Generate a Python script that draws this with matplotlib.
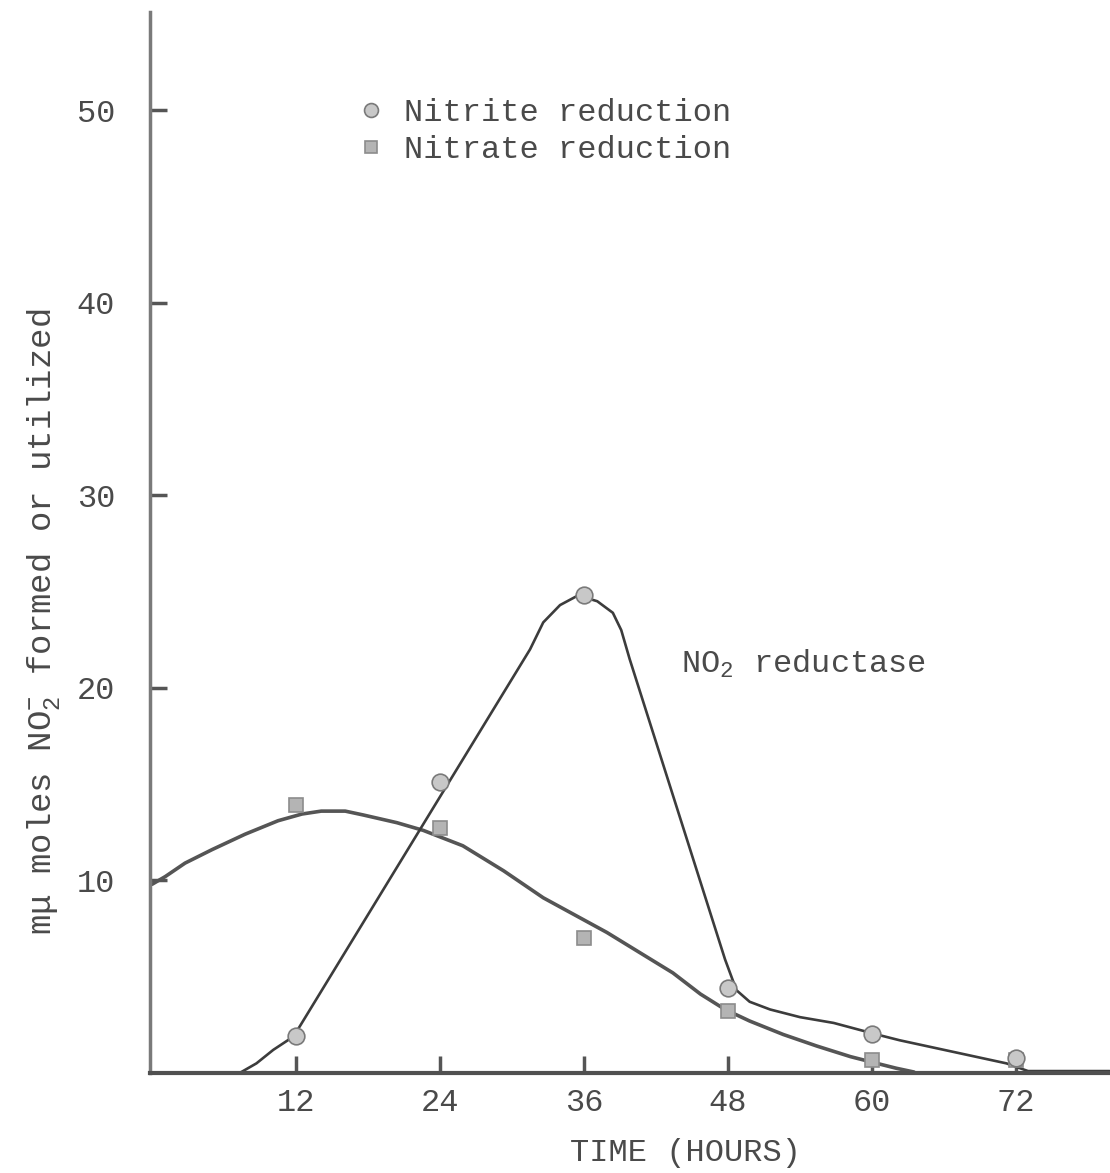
import matplotlib
matplotlib.use("Agg")
import matplotlib.pyplot as plt
from matplotlib.lines import Line2D

plt.rcParams["font.family"] = ["Liberation Mono", "DejaVu Sans Mono"]
plt.rcParams["mathtext.fontset"] = "custom"
plt.rcParams["mathtext.rm"] = "Liberation Mono"
plt.rcParams["mathtext.it"] = "Liberation Mono"
plt.rcParams["mathtext.default"] = "rm"

# measured points (hours, m-mu moles NO2-)
hours = [12, 24, 36, 48, 60, 72]
nitrite = [1.9, 15.1, 24.8, 4.4, 2.0, 0.8]
nitrate = [13.9, 12.7, 7.0, 3.2, 0.7, 0.7]

# hand drawn curves
nitrite_curve_t = [7.3, 8.7, 10.1, 11.8, 31.5, 32.6, 34.0, 35.5, 37.1, 38.4, 39.1, 39.8,
                   47.75, 48.7, 49.8, 51.5, 54.0, 56.8, 60.4, 62.3, 71.2, 73.0, 79.8]
nitrite_curve_v = [0.0, 0.5, 1.2, 1.9, 22.0, 23.4, 24.3, 24.8, 24.5, 23.9, 23.0, 21.5,
                   5.9, 4.3, 3.7, 3.3, 2.9, 2.6, 2.0, 1.7, 0.5, 0.1, 0.1]

nitrate_curve_t = [0.0, 1.1, 2.75, 5.0, 7.75, 10.5, 12.5, 14.1, 16.1, 17.6, 20.4, 22.6,
                   25.9, 29.3, 32.6, 37.9, 43.4, 45.7, 47.75, 49.8, 52.6, 55.4, 58.2,
                   60.4, 62.0, 63.5]
nitrate_curve_v = [9.8, 10.2, 10.9, 11.6, 12.4, 13.1, 13.45, 13.6, 13.6, 13.4, 13.0, 12.6,
                   11.8, 10.5, 9.1, 7.3, 5.2, 4.1, 3.3, 2.7, 2.0, 1.4, 0.85,
                   0.5, 0.25, 0.05]

x_ticks = [12, 24, 36, 48, 60, 72]
y_ticks = [10, 20, 30, 40, 50]

ink = "#4a4a4a"
fs = 23

fig = plt.figure(figsize=(11.1, 11.73), dpi=100)
ax = fig.add_axes([150 / 1110, 100 / 1173, 960 / 1110, 1061 / 1173])

ax.plot(nitrate_curve_t, nitrate_curve_v, color="#555555", lw=2.6, solid_capstyle="round", zorder=2)
ax.plot(nitrite_curve_t, nitrite_curve_v, color="#3c3c3c", lw=1.9, solid_capstyle="round", zorder=2)

ax.plot(hours, nitrate, ls="none", marker="s", ms=10, mfc="#b4b4b4", mec="#8c8c8c", mew=1.2, zorder=3)
ax.plot(hours, nitrite, ls="none", marker="o", ms=12, mfc="#c8c8c8", mec="#7a7a7a", mew=1.2, zorder=4)

ax.set_xlim(-0.17, 79.83)
ax.set_ylim(0, 55.1)

for s in ["top", "right"]:
    ax.spines[s].set_visible(False)
ax.spines["left"].set_color("#7a7a7a")
ax.spines["left"].set_linewidth(2.5)
ax.spines["bottom"].set_color("#505050")
ax.spines["bottom"].set_linewidth(3)

ax.set_xticks(x_ticks)
ax.set_xticklabels([str(t) for t in x_ticks])
ax.set_yticks(y_ticks)
ax.set_yticklabels([str(t) for t in y_ticks])
ax.tick_params(axis="x", direction="in", length=12, width=2.5, color="#555555",
               pad=11, labelsize=fs, labelcolor=ink)
ax.tick_params(axis="y", direction="in", length=12, width=2.5, color="#555555",
               pad=25, labelsize=fs, labelcolor=ink)

ax.set_xlabel("TIME (HOURS)", fontsize=fs, color=ink)
ax.xaxis.set_label_coords((685 - 150) / 960, (1073 - 1153) / 1061)
ax.xaxis.label.set_va("center")

fig.text(44 / 1110, 1 - 622 / 1173, r"m$\mu$ moles NO$_2^{-}$ formed or utilized",
         rotation=90, ha="center", va="center", fontsize=24.5, color=ink)

ax.text(44.1, 20.8, r"NO$_2$ reductase", fontsize=fs, color=ink, va="baseline")

handles = [
    Line2D([], [], ls="none", marker="o", ms=10, mfc="#c8c8c8", mec="#7a7a7a", mew=1.2),
    Line2D([], [], ls="none", marker="s", ms=8.5, mfc="#b4b4b4", mec="#8c8c8c", mew=1.2),
]
ax.legend(handles, ["Nitrite reduction", "Nitrate reduction"], loc="upper left",
          bbox_to_anchor=((358 - 150) / 960, (1073 - 98) / 1061), frameon=False,
          fontsize=fs, labelcolor=ink, handlelength=0.8, handletextpad=0.65,
          borderpad=0, borderaxespad=0, labelspacing=0.22, numpoints=1)

fig.savefig("out.png", dpi=100, facecolor="white")
